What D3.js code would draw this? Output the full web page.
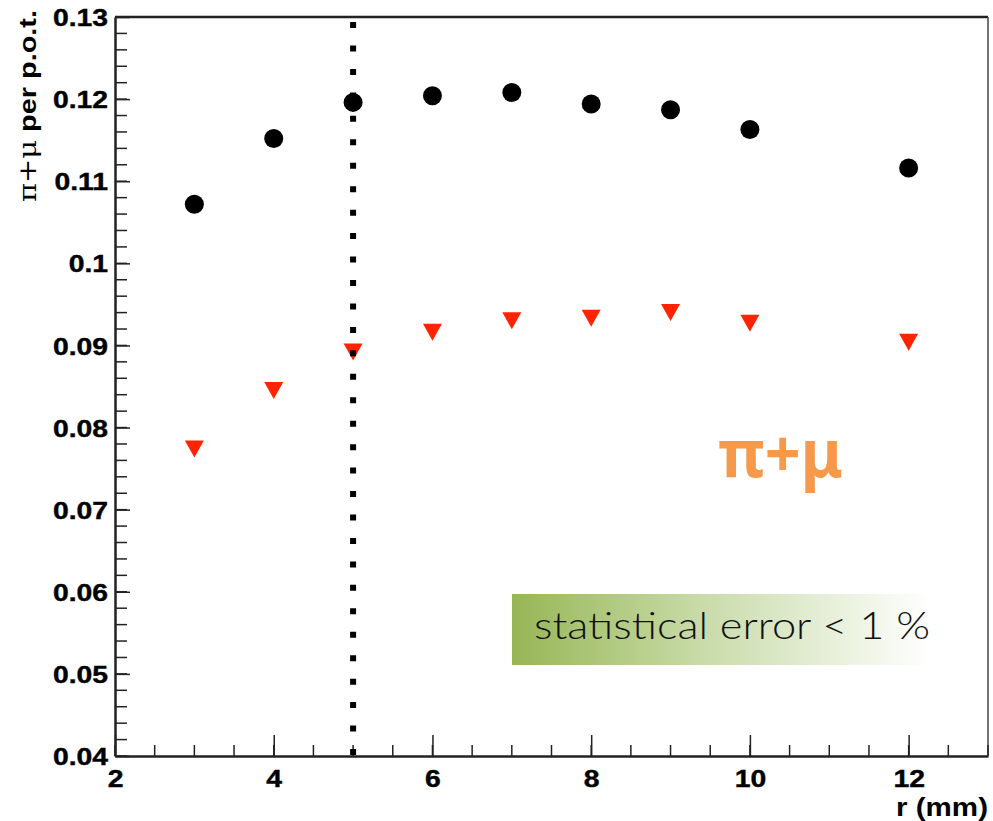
<!DOCTYPE html>
<html>
  <head>
    <meta charset="utf-8">
    <title>pi+mu per p.o.t.</title>
    <script src="https://d3js.org/d3.v7.min.js"></script>
    <style>
      body { margin: 0; background: #fff; }
      svg { display: block; }
      .tickText { font-family: "Liberation Sans", Arial, sans-serif; font-weight: bold; font-size: 24px; fill: #000; stroke: #000; stroke-width: 0.4px; }
    </style>
  </head>
  <body>
    <svg id="chart" width="993" height="821"></svg>
    <script>
      // data
      const radii = [3, 4, 5, 6, 7, 8, 9, 10, 12];
      const totalYield = [0.1072, 0.1152, 0.1196, 0.1204, 0.1208, 0.1194, 0.1187, 0.1163, 0.1116];
      const otherYield = [0.0774, 0.0845, 0.0892, 0.0916, 0.0930, 0.0933, 0.0940, 0.0927, 0.0904];
      const yTicks = [0.04, 0.05, 0.06, 0.07, 0.08, 0.09, 0.1, 0.11, 0.12, 0.13];
      const xTicks = [2, 4, 6, 8, 10, 12];
      const cutRadius = 5;

      const svg = d3.select("#chart");
      const margin = { top: 17, right: 5, bottom: 65, left: 115 };
      const width = 993, height = 821;
      const stretch = 1.18;

      const x = d3.scaleLinear().domain([2, 13]).range([margin.left, width - margin.right]);
      const y = d3.scaleLinear().domain([0.04, 0.13]).range([height - margin.bottom, margin.top]);

      // frame
      svg.append("line")
        .attr("x1", x(2)).attr("x2", x(13))
        .attr("y1", y(0.13)).attr("y2", y(0.13))
        .attr("stroke", "#222").attr("stroke-width", 2.5);
      svg.append("line")
        .attr("x1", x(13)).attr("x2", x(13))
        .attr("y1", y(0.13)).attr("y2", y(0.04))
        .attr("stroke", "#444").attr("stroke-width", 1.5);

      // minor ticks
      const yMinor = d3.range(0.04, 0.1301, 0.002);
      svg.append("g").selectAll("line")
        .data(yMinor)
        .join("line")
          .attr("x1", x(2)).attr("x2", x(2) + 12)
          .attr("y1", d => y(d)).attr("y2", d => y(d))
          .attr("stroke", "#222").attr("stroke-width", 1.5);
      const xMinor = d3.range(2, 13.01, 0.5);
      svg.append("g").selectAll("line")
        .data(xMinor)
        .join("line")
          .attr("x1", d => x(d)).attr("x2", d => x(d))
          .attr("y1", y(0.04)).attr("y2", y(0.04) - 11)
          .attr("stroke", "#222").attr("stroke-width", 1.5);

      // axes, ticks pointing inward
      const yAxis = d3.axisLeft(y)
        .tickValues(yTicks)
        .tickFormat(d => String(+d.toFixed(2)))
        .tickSize(-15)
        .tickSizeOuter(0);
      const yG = svg.append("g")
        .attr("transform", "translate(" + x(2) + ",0)")
        .call(yAxis);
      const xAxis = d3.axisBottom(x)
        .tickValues(xTicks)
        .tickSize(-21)
        .tickSizeOuter(0);
      const xG = svg.append("g")
        .attr("transform", "translate(0," + y(0.04) + ")")
        .call(xAxis);
      [yG, xG].forEach(function(g) {
        g.attr("font-size", null).attr("font-family", null);
        g.select(".domain").attr("stroke", "#222").attr("stroke-width", 2.5);
        g.selectAll(".tick line").attr("stroke", "#222").attr("stroke-width", 1.5);
        g.selectAll(".tick text").attr("class", "tickText");
      });
      yG.selectAll(".tick text")
        .attr("x", -7 / stretch)
        .attr("dy", "0.36em")
        .attr("transform", "scale(" + stretch + ",1)");
      xG.selectAll(".tick text")
        .attr("x", 0)
        .attr("y", 31)
        .attr("dy", 0)
        .attr("transform", "scale(" + stretch + ",1)");

      // axis titles
      svg.append("text")
        .attr("transform", "translate(36," + (margin.top - 7) + ") rotate(-90)")
        .attr("text-anchor", "end")
        .attr("textLength", 192)
        .attr("lengthAdjust", "spacingAndGlyphs")
        .style("font-family", "'Liberation Sans', Arial, sans-serif")
        .style("font-size", "24px")
        .style("font-weight", "bold")
        .html("<tspan font-weight='normal' font-family='DejaVu Serif'>\u03c0+\u03bc</tspan> per p.o.t.");
      svg.append("text")
        .attr("x", width - 5)
        .attr("y", 816)
        .attr("text-anchor", "end")
        .attr("textLength", 92)
        .attr("lengthAdjust", "spacingAndGlyphs")
        .style("font-family", "'Liberation Sans', Arial, sans-serif")
        .style("font-size", "26px")
        .style("font-weight", "bold")
        .text("r (mm)");

      // statistical error box
      const defs = svg.append("defs");
      const grad = defs.append("linearGradient").attr("id", "boxFill");
      grad.append("stop").attr("offset", "0%").attr("stop-color", "#97b655");
      grad.append("stop").attr("offset", "45%").attr("stop-color", "#c8dba8");
      grad.append("stop").attr("offset", "100%").attr("stop-color", "#ffffff");
      svg.append("rect")
        .attr("x", 512).attr("y", 594)
        .attr("width", 418).attr("height", 71)
        .attr("fill", "url(#boxFill)");
      svg.append("text")
        .attr("x", 534).attr("y", 639)
        .attr("textLength", 396)
        .attr("lengthAdjust", "spacingAndGlyphs")
        .style("font-family", "Lato, 'Open Sans', sans-serif")
        .style("font-weight", 300)
        .style("font-size", "37px")
        .style("fill", "#111")
        .text("statistical error < 1 %");

      // orange label
      svg.append("text")
        .attr("x", 718).attr("y", 477)
        .attr("textLength", 125)
        .attr("lengthAdjust", "spacingAndGlyphs")
        .style("font-family", "'Noto Sans', 'DejaVu Sans', sans-serif")
        .style("font-weight", "bold")
        .style("font-size", "66px")
        .style("fill", "#f7994a")
        .text("\u03c0+\u03bc");

      // red down triangles
      const tri = "M-9.5,-8.5L9.5,-8.5L0,8.5Z";
      svg.append("g").selectAll("path")
        .data(radii.map((r, i) => [r, otherYield[i]]))
        .join("path")
          .attr("d", tri)
          .attr("transform", d => "translate(" + x(d[0]) + "," + y(d[1]) + ")")
          .attr("fill", "#ff2400");

      // dotted cut line
      svg.append("line")
        .attr("x1", x(cutRadius)).attr("x2", x(cutRadius))
        .attr("y1", y(0.04) - 1).attr("y2", y(0.13))
        .attr("stroke", "#000")
        .attr("stroke-width", 6)
        .attr("stroke-dasharray", "6,17.45");

      // black circles
      svg.append("g").selectAll("circle")
        .data(radii.map((r, i) => [r, totalYield[i]]))
        .join("circle")
          .attr("cx", d => x(d[0]))
          .attr("cy", d => y(d[1]))
          .attr("r", 9.5)
          .attr("fill", "#000");
    </script>
  </body>
</html>
